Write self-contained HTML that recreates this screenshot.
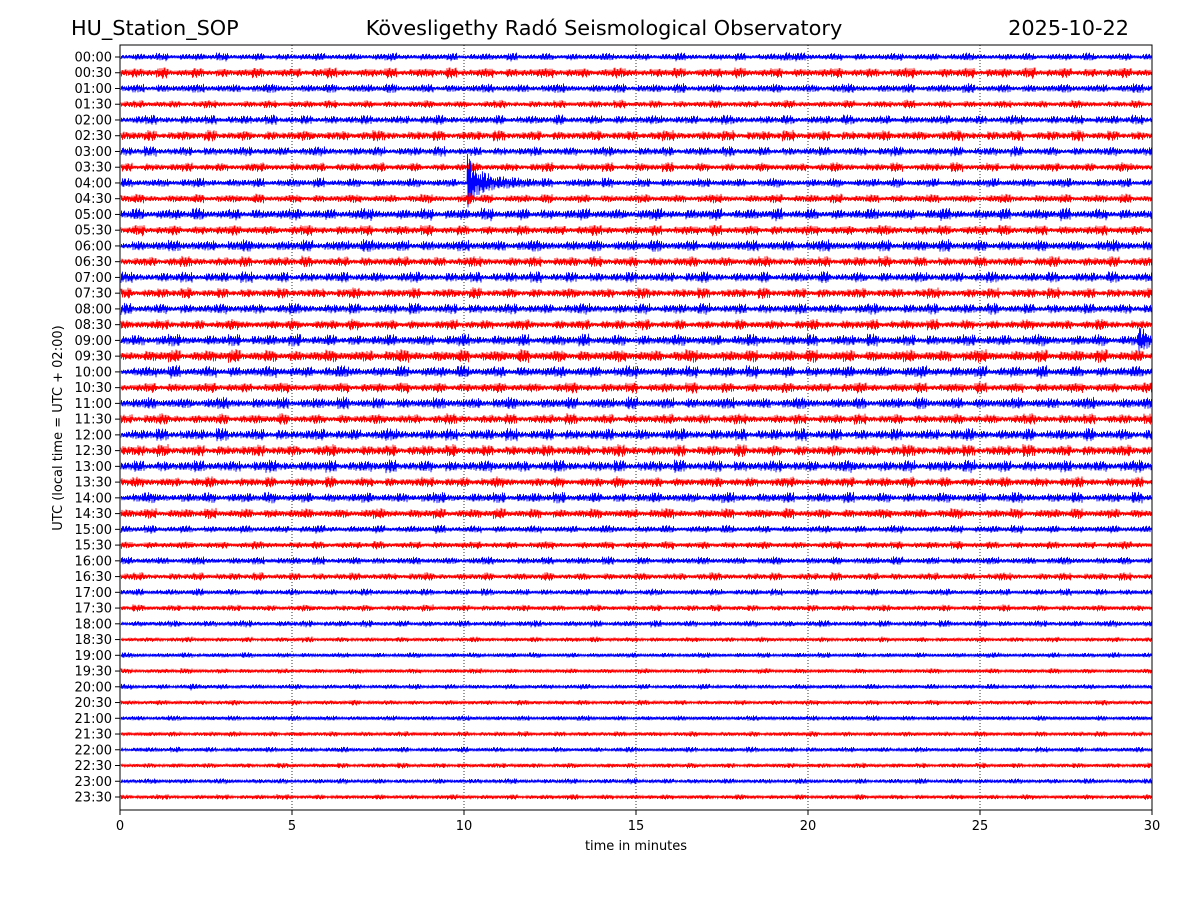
<!DOCTYPE html>
<html><head><meta charset="utf-8"><style>
body{margin:0;background:#fff;font-family:"DejaVu Sans","Liberation Sans",sans-serif;}
svg text{font-family:"DejaVu Sans","Liberation Sans",sans-serif;}
</style></head><body>
<svg id="chart" width="1200" height="900" viewBox="0 0 1200 900" xmlns="http://www.w3.org/2000/svg">
<text x="71" y="35" font-size="20.8">HU_Station_SOP</text>
<text x="604" y="35" font-size="20.8" text-anchor="middle">Kövesligethy Radó Seismological Observatory</text>
<text x="1129" y="35" font-size="20.8" text-anchor="end">2025-10-22</text>
<g id="grid"></g>
<g id="traces"></g>
<rect x="120" y="45" width="1032" height="765" fill="none" stroke="#000" stroke-width="1"/>
<g id="yticks"></g>
<g id="xticks"></g>
<text x="636" y="850" font-size="13" text-anchor="middle">time in minutes</text>
<text transform="translate(62,428) rotate(-90)" font-size="13" text-anchor="middle">UTC (local time = UTC + 02:00)</text>
</svg>
<script>
const rowLabels=[];for(let h=0;h<24;h++){const hh=String(h).padStart(2,'0');rowLabels.push(hh+':00');rowLabels.push(hh+':30');}
const xTicks=[0,5,10,15,20,25,30];
const rowAmp=[3,4,3.5,3,3.5,4,3.5,3.5,3.5,3.5,4.5,4,4.5,4,4,4,4,4,4.5,5,4.5,4,4.5,4,4.5,4.5,4.5,4,4,4,3,3,3,3,2.5,2.5,2.5,2,2,2,2,2,2,2,2,2,2,2];
const events=[[8,10.1,10.4,30],[8,10.4,11.0,14],[8,11.0,12.5,7],[8,13.5,14.0,5],[7,10.1,10.3,8],[9,10.1,10.3,9],[18,29.6,30,15],[40,2.0,2.5,4],[0,19.3,20.3,5],[1,24,24.6,5],[12,7.2,8,6]];
const wiggle=[1,-0.6,0.8,-1,0.4,-0.9,0.7,-0.3,0.95,-0.75,0.5,-1,0.85,-0.45,0.6,-0.8,0.3,-0.95,0.9,-0.55,0.2,-0.7,1,-0.35,0.65,-0.85,0.45,-0.25,0.75,-1];
const envelope=[0.7,1.1,0.9,1.4,0.6,1.0,1.2,0.8,1.5,0.7,0.9,1.3,0.6,1.1,0.8,1.0,1.35,0.75,0.95,1.2,0.65,1.05,1.45,0.85];
const NS='http://www.w3.org/2000/svg';
const X0=120,X1=1152,Y0=57,DY=(797-57)/47;
const xs=m=>X0+(m/30)*(X1-X0);
const ys=i=>Y0+i*DY;
const grid=document.getElementById('grid'),tr=document.getElementById('traces'),yt=document.getElementById('yticks'),xt=document.getElementById('xticks');
xTicks.forEach(t=>{
 const x=xs(t);
 if(t>0&&t<30){const l=document.createElementNS(NS,'line');
 
 
 l.setAttribute('x1',x);l.setAttribute('x2',x);l.setAttribute('y1',45);l.setAttribute('y2',810);l.setAttribute('stroke','#000');l.setAttribute('stroke-width','0.8');l.setAttribute('stroke-dasharray','1,2');grid.appendChild(l);}
 const tk=document.createElementNS(NS,'line');
 
 
 tk.setAttribute('x1',x);tk.setAttribute('x2',x);tk.setAttribute('y1',810);tk.setAttribute('y2',815);tk.setAttribute('stroke','#000');xt.appendChild(tk);
 const tx=document.createElementNS(NS,'text');
 
 
 tx.setAttribute('x',x);tx.setAttribute('y',830);tx.setAttribute('font-size','13');tx.setAttribute('text-anchor','middle');tx.textContent=t;xt.appendChild(tx);
});
rowLabels.forEach((lab,i)=>{
 const y=ys(i);
 const tk=document.createElementNS(NS,'line');
 
 
 tk.setAttribute('x1',115);tk.setAttribute('x2',120);tk.setAttribute('y1',y);tk.setAttribute('y2',y);tk.setAttribute('stroke','#000');yt.appendChild(tk);
 const tx=document.createElementNS(NS,'text');
 
 
 tx.setAttribute('x',112);tx.setAttribute('y',y+4.5);tx.setAttribute('font-size','13');tx.setAttribute('text-anchor','end');tx.textContent=lab;yt.appendChild(tx);
 let pts=[];let k=i*7;
 for(let px=X0+1;px<=X1;px+=0.5){
  const m=(px-X0)/(X1-X0)*30;
  let a=rowAmp[i]*envelope[(Math.floor(m/0.35)+i*5)%envelope.length];
  events.forEach(e=>{if(e[0]===i&&m>=e[1]&&m<=e[2]){const f=1-0.6*(m-e[1])/(e[2]-e[1]);a=Math.max(a,e[3]*f);}});
  const w=wiggle[k%wiggle.length]*(0.55+0.45*Math.abs(wiggle[(k*7+i*3)%wiggle.length]));k++;
  pts.push(px.toFixed(1)+','+(y+a*w).toFixed(1));
 }
 const p=document.createElementNS(NS,'polyline');
 
 
 p.setAttribute('points',pts.join(' '));p.setAttribute('fill','none');p.setAttribute('stroke',i%2?'#ff0000':'#0000ff');p.setAttribute('stroke-width','0.8');
 tr.appendChild(p);
});
</script>
</body></html>
